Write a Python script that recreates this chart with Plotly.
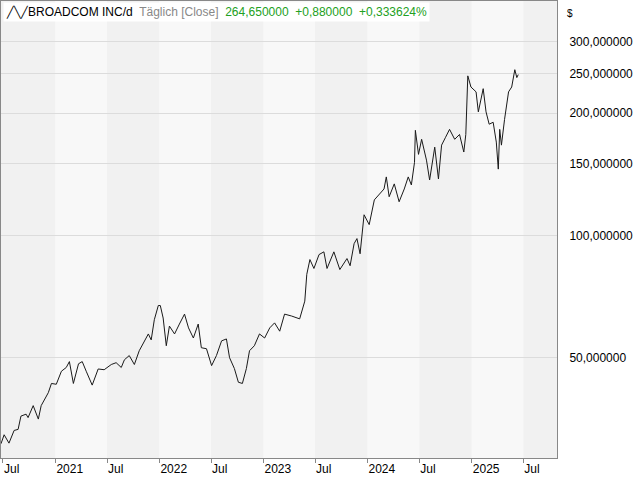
import plotly.graph_objects as go

dates = ['2020-06-24', '2020-07-05', '2020-07-22', '2020-08-09', '2020-08-23', '2020-09-02',
         '2020-09-20', '2020-09-27', '2020-10-15', '2020-11-02', '2020-11-12', '2020-12-07',
         '2020-12-18', '2021-01-04', '2021-01-22', '2021-02-08', '2021-02-19', '2021-03-05',
         '2021-03-23', '2021-04-05', '2021-04-19', '2021-05-10', '2021-05-31', '2021-06-21',
         '2021-07-16', '2021-08-02', '2021-08-20', '2021-08-31', '2021-09-17', '2021-10-05',
         '2021-10-22', '2021-11-09', '2021-11-23', '2021-12-03', '2021-12-14', '2021-12-28',
         '2022-01-04', '2022-01-14', '2022-01-25', '2022-02-05', '2022-02-23', '2022-03-12',
         '2022-03-30', '2022-04-13', '2022-04-30', '2022-05-17', '2022-05-28', '2022-06-15',
         '2022-07-03', '2022-07-20', '2022-08-07', '2022-08-24', '2022-09-04', '2022-09-21',
         '2022-10-05', '2022-10-19', '2022-11-02', '2022-11-13', '2022-11-30', '2022-12-18',
         '2023-01-05', '2023-01-23', '2023-02-09', '2023-02-27', '2023-03-16', '2023-04-10',
         '2023-05-08', '2023-05-26', '2023-06-02', '2023-06-13', '2023-06-27', '2023-07-15',
         '2023-08-01', '2023-08-12', '2023-09-05', '2023-09-26', '2023-10-21', '2023-11-01',
         '2023-11-15', '2023-11-25', '2023-12-06', '2023-12-20', '2024-01-07', '2024-01-25',
         '2024-02-11', '2024-02-28', '2024-03-07', '2024-03-17', '2024-04-04', '2024-04-21',
         '2024-05-09', '2024-05-23', '2024-06-03', '2024-06-14', '2024-06-17', '2024-06-28',
         '2024-07-09', '2024-07-26', '2024-08-06', '2024-08-24', '2024-09-06', '2024-09-17',
         '2024-10-01', '2024-10-15', '2024-11-02', '2024-11-19', '2024-12-04', '2024-12-11',
         '2024-12-18', '2024-12-29', '2025-01-16', '2025-01-24', '2025-02-10', '2025-02-20',
         '2025-03-03', '2025-03-17', '2025-03-28', '2025-04-04', '2025-04-09', '2025-04-15',
         '2025-04-26', '2025-05-10', '2025-05-21', '2025-06-01', '2025-06-08', '2025-06-13']
close = [30.7, 32.3, 30.8, 33.1, 33.3, 35.9, 36.3, 35.6, 38.1, 35.3, 38.1, 41.0,
         43.2, 43.0, 46.3, 47.3, 48.9, 43.2, 48.3, 48.9, 46.3, 42.8, 46.9, 46.7,
         48.1, 48.6, 47.3, 49.4, 50.6, 48.1, 52.0, 55.0, 57.2, 55.3, 62.0, 67.2,
         67.2, 62.6, 53.5, 59.8, 57.2, 60.5, 64.0, 59.2, 55.9, 60.5, 52.9, 52.6,
         47.8, 50.6, 55.0, 55.6, 50.0, 47.0, 43.5, 43.2, 47.0, 52.0, 53.5, 57.2,
         55.9, 59.2, 60.9, 58.1, 64.0, 63.3, 62.3, 68.9, 80.2, 87.2, 82.9, 89.7,
         91.1, 82.9, 91.1, 82.4, 87.7, 84.2, 95.4, 98.2, 90.1, 112.4, 106.3, 122.3,
         125.9, 130.1, 139.3, 124.5, 133.9, 121.0, 130.1, 139.3, 133.1, 151.3, 181.4, 158.3,
         172.4, 153.2, 136.9, 164.9, 137.7, 166.8, 174.4, 182.4, 172.4, 177.2, 160.4, 177.2,
         247.0, 231.9, 225.6, 201.4, 229.7, 201.4, 187.8, 189.9, 169.7, 145.6, 182.4, 166.8,
         193.0, 225.6, 231.9, 255.8, 244.6, 248.8]

y_ticks = [50, 100, 150, 200, 250, 300]
y_labels = ['50,000000', '100,000000', '150,000000', '200,000000', '250,000000', '300,000000']
x_ticks = ['2020-07-01', '2021-01-01', '2021-07-01', '2022-01-01', '2022-07-01', '2023-01-01',
           '2023-07-01', '2024-01-01', '2024-07-01', '2025-01-01', '2025-07-01']
x_labels = ['Jul', '2021', 'Jul', '2022', 'Jul', '2023', 'Jul', '2024', 'Jul', '2025', 'Jul']
band_edges = ['2020-06-01'] + x_ticks[1:] + ['2026-01-01']

font = 'Liberation Sans'

fig = go.Figure(go.Scatter(x=dates, y=close, mode='lines',
                           line=dict(color='#1a1a1a', width=1)))

shapes = []
for i in range(len(band_edges) - 1):
    shapes.append(dict(type='rect', xref='x', yref='paper', layer='below', line_width=0,
                       x0=band_edges[i], x1=band_edges[i + 1], y0=0, y1=1,
                       fillcolor='#f1f1f1' if i % 2 == 0 else '#f8f8f8'))

fig.update_layout(
    width=640, height=480, margin=dict(l=1, r=83, t=1, b=22, autoexpand=False),
    paper_bgcolor='white', plot_bgcolor='#f8f8f8', showlegend=False,
    shapes=shapes,
    font=dict(family=font, size=12, color='black'),
    xaxis=dict(range=['2020-06-24', '2025-10-27'], tickvals=x_ticks, ticktext=x_labels,
               showgrid=False, ticks='outside', ticklen=4, tickcolor='#888',
               ticklabelposition='outside right',
               showline=True, linecolor='#888', mirror=True, zeroline=False,
               automargin=False),
    yaxis=dict(type='log', side='right', range=[1.452, 2.577], tickvals=y_ticks,
               ticktext=y_labels, showgrid=True, gridcolor='#dcdcdc', ticks='',
               ticklabelstandoff=9,
               showline=True, linecolor='#888', mirror=True, zeroline=False,
               automargin=False),
    annotations=[
        dict(xref='paper', yref='paper', x=0.003, y=0.997, xanchor='left', yanchor='top',
             showarrow=False, bgcolor='white', borderpad=2,
             text="<span style='font-size:11px'>╱╲╱</span>BROADCOM INC/d  "
                  "<span style='color:#888'>Täglich [Close]</span>  "
                  "<span style='color:#22a022'>264,650000  +0,880000  +0,333624%</span>"),
        dict(xref='paper', yref='paper', x=1.015, y=0.99, xanchor='left', yanchor='top',
             showarrow=False, text='$', font=dict(size=10)),
    ],
)

fig.write_html('out.html', config={'displayModeBar': False},
               post_script="document.body.style.margin='0';")
